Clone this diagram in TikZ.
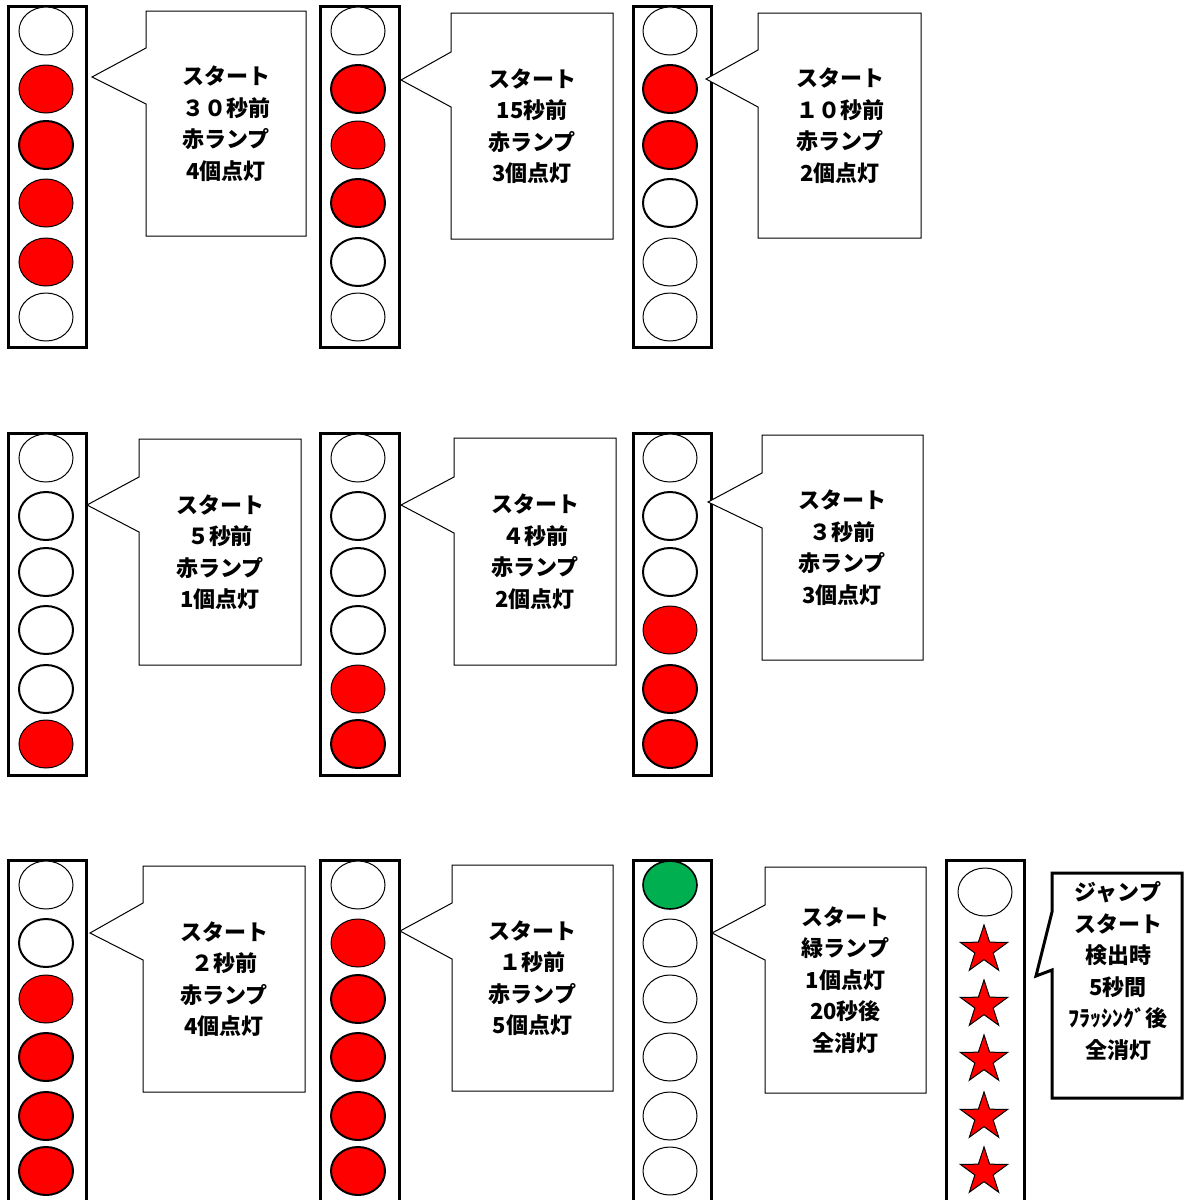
\documentclass[tikz,border=0pt]{standalone}
\usepackage{fontspec}
\setmainfont{Noto Sans CJK JP}
\usetikzlibrary{shapes.geometric}
\definecolor{lampred}{HTML}{FF0000}
\definecolor{lampgreen}{HTML}{00B050}
\tikzset{
  panelbox/.style={draw=black, line width=1.5pt},
  lamp/.style={ellipse, draw=black, line width=0.5pt, minimum width=27pt, minimum height=24pt, inner sep=0pt, fill=white},
  bubble/.style={draw=black, line width=0.5pt, fill=white, line join=miter},
  bubbletext/.style={align=center, font=\bfseries\fontsize{11}{15.75}\selectfont, inner sep=0pt},
  starlamp/.style={star, star points=5, star point ratio=2.6, draw=black, fill=lampred, line width=0.5pt, minimum size=25pt, inner sep=0pt}
}
% #1 name, #2 x, #3 top, #4 list idx/fill/width
\newcommand\lampstack[4]{%
  \foreach \i/\f/\w in {#4} {%
    \pgfmathsetmacro\off{{25,83,139,197,256,311}[\i-1]}%
    \node[lamp, fill=\f, line width=\w pt] (#1-\i) at (#2, #3+\off) {};
  }}
% #1 left #2 top #3 right #4 bottom #5 y1 #6 y2 #7 tipx #8 tipy
\newcommand\bubblepath[8]{%
  \draw[bubble] (#1,#2) -- (#3,#2) -- (#3,#4) -- (#1,#4) -- (#1,#6) -- (#7,#8) -- (#1,#5) -- cycle;}
\begin{document}
\begin{tikzpicture}[x=0.5pt,y=-0.5pt]
\useasboundingbox (0,0) rectangle (1185,1200);
\clip (0,0) rectangle (1185,1200);
\fill[white] (0,0) rectangle (1185,1200);

% ---------- Row 1 ----------
\draw[panelbox] (8,6) rectangle (86,347);
\lampstack{p11}{46}{6}{1/white/0.5, 2/lampred/0.5, 3/lampred/1, 4/lampred/0.5, 5/lampred/0.5, 6/white/0.5}
\bubblepath{146}{11}{306}{236}{48}{104}{92}{77}
\node[bubbletext] (t11) at (226,123.5) {スタート\\３０秒前\\赤ランプ\\4個点灯};

\draw[panelbox] (320,6) rectangle (399,347);
\lampstack{p12}{358}{6}{1/white/0.5, 2/lampred/1, 3/lampred/0.5, 4/lampred/1, 5/white/1, 6/white/0.5}
\bubblepath{451}{13}{613}{239}{52}{107}{401}{80}
\node[bubbletext] (t12) at (532,126) {スタート\\15秒前\\赤ランプ\\3個点灯};

\draw[panelbox] (633,6) rectangle (711,347);
\lampstack{p13}{670}{6}{1/white/0.5, 2/lampred/1, 3/lampred/1, 4/white/1, 5/white/0.5, 6/white/0.5}
\bubblepath{758}{13}{921}{238}{50}{107}{706}{79}
\node[bubbletext] (t13) at (840,125.5) {スタート\\１０秒前\\赤ランプ\\2個点灯};

% ---------- Row 2 ----------
\draw[panelbox] (8,433) rectangle (86,775);
\lampstack{p21}{46}{433}{1/white/0.5, 2/white/1, 3/white/1, 4/white/1, 5/white/1, 6/lampred/0.5}
\bubblepath{139}{439}{301}{665}{477}{532}{87}{505}
\node[bubbletext] (t21) at (220,552) {スタート\\５秒前\\赤ランプ\\1個点灯};

\draw[panelbox] (320,433) rectangle (399,775);
\lampstack{p22}{358}{433}{1/white/0.5, 2/white/1, 3/white/1, 4/white/1, 5/lampred/0.5, 6/lampred/1}
\bubblepath{454}{438}{616}{665}{477}{533}{401}{505}
\node[bubbletext] (t22) at (535,551.5) {スタート\\４秒前\\赤ランプ\\2個点灯};

\draw[panelbox] (633,433) rectangle (711,775);
\lampstack{p23}{670}{433}{1/white/0.5, 2/white/1, 3/white/1, 4/lampred/0.5, 5/lampred/1, 6/lampred/1}
\bubblepath{762}{435}{923}{660}{473}{528}{708}{502}
\node[bubbletext] (t23) at (842,547.5) {スタート\\３秒前\\赤ランプ\\3個点灯};

% ---------- Row 3 ----------
\draw[panelbox] (8,860) rectangle (86,1215);
\lampstack{p31}{46}{860}{1/white/0.5, 2/white/1, 3/lampred/0.5, 4/lampred/1, 5/lampred/1, 6/lampred/1}
\bubblepath{143}{866}{305}{1092}{903}{960}{90}{933}
\node[bubbletext] (t31) at (224,979) {スタート\\２秒前\\赤ランプ\\4個点灯};

\draw[panelbox] (320,860) rectangle (399,1215);
\lampstack{p32}{358}{860}{1/white/0.5, 2/lampred/0.5, 3/lampred/1, 4/lampred/1, 5/lampred/1, 6/lampred/1}
\bubblepath{452}{865}{613}{1091}{903}{959}{400}{931}
\node[bubbletext] (t32) at (532.5,978) {スタート\\１秒前\\赤ランプ\\5個点灯};

\draw[panelbox] (633,860) rectangle (711,1215);
\lampstack{p33}{670}{860}{1/lampgreen/0.8, 2/white/0.5, 3/white/0.5, 4/white/0.5, 5/white/0.5, 6/white/0.5}
\bubblepath{765}{867}{926}{1093}{905}{960}{712}{933}
\node[bubbletext] (t33) at (845.5,980) {スタート\\緑ランプ\\1個点灯\\20秒後\\全消灯};

\draw[panelbox] (946,860) rectangle (1024,1215);
\node[lamp, line width=0.5pt] (p34-1) at (985,892) {};
\foreach \k/\yy in {2/950, 3/1005, 4/1060, 5/1117, 6/1172}
  \node[starlamp] (p34-\k) at (984,\yy) {};
\draw[bubble, line width=1.5pt] (1052,873) -- (1182,873) -- (1182,1098) -- (1052,1098) -- (1052,970) -- (1036,976) -- (1052,912) -- cycle;
\node[bubbletext] (t34) at (1118,971) {ジャンプ\\スタート\\検出時\\5秒間\\ﾌﾗｯｼﾝｸﾞ後\\全消灯};
\end{tikzpicture}
\end{document}
